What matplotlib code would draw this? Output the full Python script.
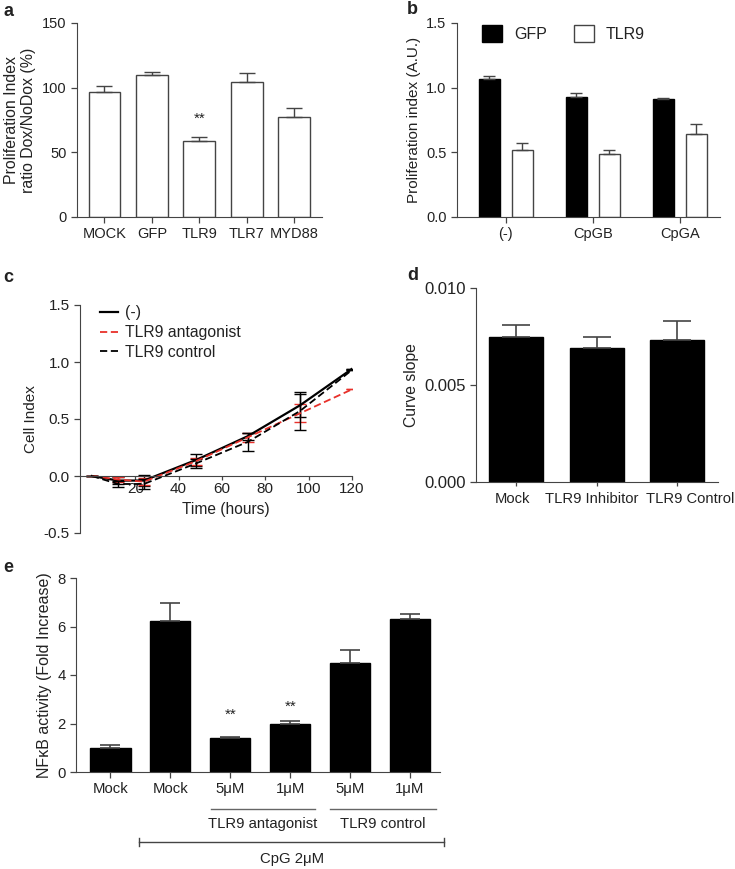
import numpy as np
import matplotlib.pyplot as plt
from matplotlib import transforms
from matplotlib.patches import Patch
from matplotlib.lines import Line2D

plt.rcParams['font.family'] = ['Liberation Sans', 'DejaVu Sans']
plt.rcParams['font.size'] = 10.5
plt.rcParams['text.color'] = '#222222'
plt.rcParams['axes.labelcolor'] = '#222222'
plt.rcParams['xtick.color'] = '#444444'
plt.rcParams['ytick.color'] = '#444444'
plt.rcParams['xtick.labelcolor'] = '#222222'
plt.rcParams['ytick.labelcolor'] = '#222222'
plt.rcParams['axes.edgecolor'] = '#444444'

# panel a
a_labels = ['MOCK', 'GFP', 'TLR9', 'TLR7', 'MYD88']
a_vals = [97, 110, 59, 104, 77]
a_err = [4, 2, 2.5, 7, 7]

# panel b
b_groups = ['(-)', 'CpGB', 'CpGA']
b_gfp = [1.07, 0.93, 0.91]
b_gfp_err = [0.02, 0.03, 0.01]
b_tlr9 = [0.52, 0.49, 0.64]
b_tlr9_err = [0.05, 0.03, 0.08]

# panel c
c_time = [0, 12, 24, 48, 72, 96, 120]
c_none = [0, -0.04, -0.04, 0.14, 0.35, 0.62, 0.94]
c_none_err = [0, 0.03, 0.05, 0.05, 0.03, 0.10, 0]
c_antag = [0, -0.03, -0.05, 0.13, 0.34, 0.55, 0.76]
c_antag_err = [0, 0.02, 0.03, 0.03, 0.04, 0.08, 0]
c_ctrl = [0, -0.07, -0.07, 0.11, 0.30, 0.57, 0.93]
c_ctrl_err = [0, 0.03, 0.04, 0.04, 0.08, 0.17, 0]

# panel d
d_labels = ['Mock', 'TLR9 Inhibitor', 'TLR9 Control']
d_vals = [0.0075, 0.0069, 0.0073]
d_err = [0.0006, 0.0006, 0.0010]

# panel e
e_labels = ['Mock', 'Mock', '5\u03bcM', '1\u03bcM', '5\u03bcM', '1\u03bcM']
e_vals = [1.0, 6.22, 1.40, 1.97, 4.50, 6.30]
e_err = [0.10, 0.75, 0.03, 0.13, 0.55, 0.22]

W, H = 735, 869
fig = plt.figure(figsize=(W / 100, H / 100), dpi=100)


def add_ax(l, r, t, b):
    return fig.add_axes([l / W, 1 - b / H, (r - l) / W, (b - t) / H])


def style(ax, fs):
    ax.spines['top'].set_visible(False)
    ax.spines['right'].set_visible(False)
    ax.tick_params(direction='out', length=4, width=0.9, labelsize=fs)


def shift(lab, dx):
    lab.set_transform(lab.get_transform() +
                      transforms.ScaledTranslation(dx / 100, 0, fig.dpi_scale_trans))


ecol = '#444444'

# ---- a
ax = add_ax(77, 322, 23, 217)
style(ax, 10.5)
xa = np.arange(len(a_labels))
ax.bar(xa, a_vals, width=0.67, color='white', edgecolor='#444444', linewidth=1)
ax.errorbar(xa, a_vals, yerr=[np.zeros(len(a_err)), a_err], fmt='none',
            ecolor=ecol, elinewidth=1, capsize=6, capthick=1)
ax.text(2, 76, '**', ha='center', va='center', fontsize=11)
ax.set_xticks(xa)
ax.set_xticklabels(a_labels)
ax.set_xlim(-0.58, 4.59)
ax.set_ylim(0, 150)
ax.set_yticks([0, 50, 100, 150])
ax.set_ylabel('Proliferation Index\nratio Dox/NoDox (%)', fontsize=11.4, labelpad=4)
fig.text(3 / W, 1 - 11 / H, 'a', fontsize=13, fontweight='bold', va='center')

# ---- b
ax = add_ax(457, 720, 23, 217)
style(ax, 10.5)
xb = np.arange(len(b_groups))
off = 0.19
ax.bar(xb - off, b_gfp, width=0.24, color='black', edgecolor='black')
ax.bar(xb + off, b_tlr9, width=0.24, color='white', edgecolor='#444444', linewidth=1)
ax.errorbar(xb - off, b_gfp, yerr=[np.zeros(3), b_gfp_err], fmt='none',
            ecolor=ecol, elinewidth=1, capsize=4, capthick=1)
ax.errorbar(xb + off, b_tlr9, yerr=[np.zeros(3), b_tlr9_err], fmt='none',
            ecolor=ecol, elinewidth=1, capsize=4, capthick=1)
ax.set_xticks(xb)
ax.set_xticklabels(b_groups)
ax.set_xlim(-0.56, 2.46)
ax.set_ylim(0, 1.5)
ax.set_yticks([0, 0.5, 1.0, 1.5])
ax.set_yticklabels(['0.0', '0.5', '1.0', '1.5'])
ax.set_ylabel('Proliferation index (A.U.)', fontsize=11)
hb = [Patch(facecolor='black', edgecolor='black'),
      Patch(facecolor='white', edgecolor='#444444')]
ax.legend(hb, ['GFP', 'TLR9'], ncol=2, loc='upper left', frameon=False,
          bbox_to_anchor=(0.04, 1.065), handlelength=1.25, handleheight=1.25,
          columnspacing=1.7, handletextpad=0.75, fontsize=11.5)
fig.text(407 / W, 1 - 9 / H, 'b', fontsize=13, fontweight='bold', va='center')

# ---- c
ax = add_ax(80, 352, 305, 533)
style(ax, 11)
ax.tick_params(axis='x', length=3, pad=1.5)
ax.spines['bottom'].set_position(('data', 0))
ax.errorbar(c_time, c_none, yerr=c_none_err, color='black', lw=1.6,
            elinewidth=1, capsize=4, label='(-)')
ax.errorbar(c_time, c_antag, yerr=c_antag_err, color='#e8302a', lw=1.3,
            ls=(0, (4, 2)), elinewidth=1, capsize=4, label='TLR9 antagonist')
ax.errorbar(c_time, c_ctrl, yerr=c_ctrl_err, color='black', lw=1.3,
            ls=(0, (4, 2)), elinewidth=1, capsize=4, label='TLR9 control')
ax.set_xlim(-5.5, 120)
ax.set_ylim(-0.5, 1.5)
ax.set_xticks([20, 40, 60, 80, 100, 120])
ax.set_yticks([-0.5, 0, 0.5, 1.0, 1.5])
ax.set_yticklabels(['-0.5', '0.0', '0.5', '1.0', '1.5'])
ax.set_xlabel('Time (hours)', fontsize=11.2)
ax.xaxis.set_label_coords(0.537, 0.137)
ax.set_ylabel('Cell Index', fontsize=11)
hc = [Line2D([], [], color='black', lw=1.6),
      Line2D([], [], color='#e8302a', lw=1.3, ls=(0, (4, 2))),
      Line2D([], [], color='black', lw=1.3, ls=(0, (4, 2)))]
ax.legend(hc, ['(-)', 'TLR9 antagonist', 'TLR9 control'], loc='upper left',
          frameon=False, bbox_to_anchor=(0.02, 1.06), handlelength=1.15,
          handletextpad=0.5, labelspacing=0.3, fontsize=11.3)
fig.text(3 / W, 1 - 277 / H, 'c', fontsize=13, fontweight='bold', va='center')

# ---- d
ax = add_ax(476, 718, 288, 482)
style(ax, 10.6)
xd = np.arange(len(d_labels))
ax.bar(xd, d_vals, width=0.67, color='black', edgecolor='black')
ax.errorbar(xd, d_vals, yerr=[np.zeros(3), d_err], fmt='none',
            ecolor=ecol, elinewidth=1.2, capsize=10, capthick=1.2)
ax.set_xticks(xd)
ax.set_xticklabels(d_labels)
ax.tick_params(axis='x', length=3, pad=4)
labs = ax.get_xticklabels()
shift(labs[0], -4)
shift(labs[1], -5)
shift(labs[2], 13)
ax.set_xlim(-0.5, 2.51)
ax.set_ylim(0, 0.010)
ax.set_yticks([0, 0.005, 0.010])
ax.set_yticklabels(['0.000', '0.005', '0.010'], fontsize=12)
ax.set_ylabel('Curve slope', fontsize=11.3)
fig.text(407 / W, 1 - 275 / H, 'd', fontsize=13, fontweight='bold', va='center')

# ---- e
ax = add_ax(76, 440, 578, 772)
style(ax, 10.7)
xe = np.arange(len(e_labels))
ax.bar(xe, e_vals, width=0.67, color='black', edgecolor='black')
ax.errorbar(xe, e_vals, yerr=[np.zeros(6), e_err], fmt='none',
            ecolor=ecol, elinewidth=1.2, capsize=7, capthick=1.2)
ax.text(2, 2.35, '**', ha='center', va='center', fontsize=11)
ax.text(3, 2.68, '**', ha='center', va='center', fontsize=11)
ax.set_xticks(xe)
ax.set_xticklabels(e_labels)
ax.set_xlim(-0.575, 5.5)
ax.set_ylim(0, 8)
ax.set_yticks([0, 2, 4, 6, 8])
ax.set_ylabel('NF\u03baB activity (Fold Increase)', fontsize=11.5)
tr = transforms.blended_transform_factory(ax.transData, fig.transFigure)
gy = 1 - 809 / H
ax.plot([1.675, 3.41], [gy, gy], color='#666666', lw=1, transform=tr, clip_on=False)
ax.plot([3.66, 5.44], [gy, gy], color='#666666', lw=1, transform=tr, clip_on=False)
ax.text(2.54, 1 - 824 / H, 'TLR9 antagonist', ha='center', va='center',
        fontsize=10.7, transform=tr)
ax.text(4.55, 1 - 824 / H, 'TLR9 control', ha='center', va='center',
        fontsize=10.7, transform=tr)
cy = 1 - 842 / H
tk = 4 / H
ax.plot([0.475, 5.575], [cy, cy], color='#444444', lw=1, transform=tr, clip_on=False)
ax.plot([0.475, 0.475], [cy - tk, cy + tk], color='#444444', lw=1, transform=tr, clip_on=False)
ax.plot([5.575, 5.575], [cy - tk, cy + tk], color='#444444', lw=1, transform=tr, clip_on=False)
ax.text(3.03, 1 - 859 / H, 'CpG 2\u03bcM', ha='center', va='center',
        fontsize=10.7, transform=tr)
fig.text(3 / W, 1 - 567 / H, 'e', fontsize=13, fontweight='bold', va='center')

fig.savefig('out.png', dpi=100)
